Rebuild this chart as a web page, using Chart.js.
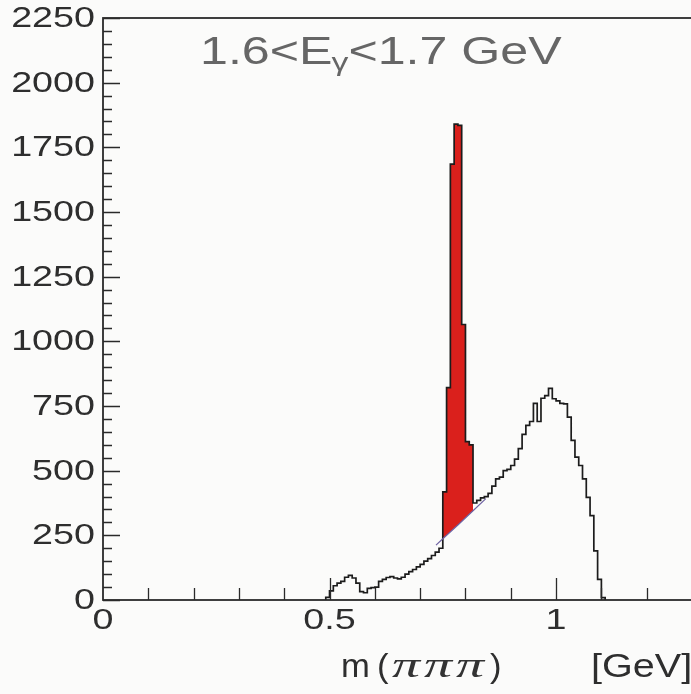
<!DOCTYPE html>
<html>
<head>
<meta charset="utf-8">
<script src="https://cdn.jsdelivr.net/npm/chart.js@4.4.1/dist/chart.umd.min.js"></script>
<style>
  html, body { margin: 0; padding: 0; background: #fbfbfa; overflow: hidden; }
  #wrap { position: relative; width: 700px; height: 694px; }
</style>
</head>
<body>
<div id="wrap"><canvas id="c" width="700" height="694"></canvas></div>
<script>
// m(πππ) spectrum for 1.6 < Eγ < 1.7 GeV, bins of 1/120 GeV
const BIN_WIDTH = 1 / 120;
const FIRST_BIN = 59;               // lower edge of first filled bin = FIRST_BIN * BIN_WIDTH
const counts = [
  10, 35, 55, 65, 72, 88, 95, 85, 65, 32,          // 0.492 - 0.575
  28, 45, 48, 50, 72, 80, 87, 90, 85, 82,          // 0.575 - 0.658
  88, 100, 110, 118, 128, 138, 150, 160, 172, 185, // 0.658 - 0.742
  200, 418, 821, 1685, 1840, 1835, 1065, 612, 600, 375, // 0.742 - 0.825
  385, 395, 400, 412, 440, 468, 475, 500, 505, 520,     // 0.825 - 0.908
  545, 585, 640, 675, 690, 760, 690, 780, 790, 818,     // 0.908 - 0.992
  778, 770, 760, 758, 707, 617, 552, 520, 468, 397,     // 0.992 - 1.075
  326, 190, 80, 9                                        // 1.075 - 1.108
];

// ω signal bins (filled) and the background under them
const PEAK_FIRST_BIN = 90;
const PEAK_LAST_BIN = 97;
const bgMass   = [0.735, 0.75, 0.7833, 0.8167, 0.845];
const bgCounts = [212, 237, 290, 345, 392];

// axis labels
const xTickLabels = [0, 0.5, 1];
const X_MINOR_STEP = 0.1;
const X_MAX = 1.3;
const yTickLabels = [0, 250, 500, 750, 1000, 1250, 1500, 1750, 2000, 2250];
const Y_MINOR_STEP = 50;
const Y_MAX = 2250;

// ---- build step-line data ----
const edge = k => k * BIN_WIDTH;
const histPts = [{ x: edge(FIRST_BIN), y: 0 }];
counts.forEach((c, i) => histPts.push({ x: edge(FIRST_BIN + i), y: c }));
histPts.push({ x: edge(FIRST_BIN + counts.length), y: 0 });

const bgAt = m => {
  for (let i = 0; i < bgMass.length - 1; i++) {
    if (m <= bgMass[i + 1]) {
      const t = (m - bgMass[i]) / (bgMass[i + 1] - bgMass[i]);
      return bgCounts[i] + t * (bgCounts[i + 1] - bgCounts[i]);
    }
  }
  return bgCounts[bgCounts.length - 1];
};

const peakPts = [];
for (let k = PEAK_FIRST_BIN; k <= PEAK_LAST_BIN; k++) {
  peakPts.push({ x: edge(k), y: counts[k - FIRST_BIN] });
}
peakPts.push({ x: edge(PEAK_LAST_BIN + 1), y: counts[PEAK_LAST_BIN - FIRST_BIN] });

const peakBase = [edge(PEAK_FIRST_BIN), 0.7833, edge(PEAK_LAST_BIN + 1)]
  .map(m => ({ x: m, y: bgAt(m) }));
const fitLine = bgMass.map((m, i) => ({ x: m, y: bgCounts[i] }));

// ---- frame, inward ticks, stretched labels ----
function stretchedText(ctx, str, x, y, sx, align) {
  const w = ctx.measureText(str).width * sx;
  const x0 = align === 'right' ? x - w : align === 'center' ? x - w / 2 : x;
  ctx.save();
  ctx.translate(x0, y);
  ctx.scale(sx, 1);
  ctx.textAlign = 'left';
  ctx.fillText(str, 0, 0);
  ctx.restore();
  return x0 + w;
}

const SANS = '"Liberation Sans", Arial, sans-serif';

const frameAndText = {
  id: 'frameAndText',
  afterDraw(chart) {
    const { ctx, chartArea: a, scales } = chart;
    const xs = scales.x, ys = scales.y;
    ctx.save();
    ctx.strokeStyle = '#2a2a2a';
    ctx.lineWidth = 1.8;
    ctx.strokeRect(a.left, a.top, a.right - a.left, a.bottom - a.top);

    ctx.lineWidth = 1.3;
    ctx.beginPath();
    for (let v = 0; v <= Y_MAX + 1e-6; v += Y_MINOR_STEP) {
      const py = Math.round(ys.getPixelForValue(v)) + 0.5;
      const len = yTickLabels.includes(v) ? 17 : 9;
      ctx.moveTo(a.left, py); ctx.lineTo(a.left + len, py);
    }
    for (let i = 1; i * X_MINOR_STEP <= X_MAX + 1e-6; i++) {
      const v = +(i * X_MINOR_STEP).toFixed(3);
      const px = Math.round(xs.getPixelForValue(v)) + 0.5;
      const len = xTickLabels.includes(v) ? 22 : 12;
      ctx.moveTo(px, a.bottom); ctx.lineTo(px, a.bottom - len);
    }
    ctx.stroke();

    ctx.fillStyle = '#2e2e2e';
    ctx.textBaseline = 'middle';
    ctx.font = '29px ' + SANS;
    yTickLabels.forEach(v => {
      stretchedText(ctx, String(v), a.left - 8, ys.getPixelForValue(v) + 1, 1.3, 'right');
    });
    xTickLabels.forEach(v => {
      stretchedText(ctx, String(v), xs.getPixelForValue(v), a.bottom + 21, 1.3, 'center');
    });

    // axis title
    ctx.textBaseline = 'alphabetic';
    ctx.font = '33px ' + SANS;
    stretchedText(ctx, 'm', 341, 677, 1.05, 'left');
    stretchedText(ctx, '(', 377, 677, 1.05, 'left');
    ctx.fillStyle = '#333';
    ctx.font = 'italic 35px "Liberation Serif", "Times New Roman", serif';
    for (let i = 0; i < 3; i++) stretchedText(ctx, 'π', 392 + i * 32, 677, 1.6, 'left');
    ctx.fillStyle = '#2e2e2e';
    ctx.font = '33px ' + SANS;
    stretchedText(ctx, ')', 490, 677, 1.05, 'left');
    stretchedText(ctx, '[GeV]', 591, 677, 1.2, 'left');

    // energy-range label
    ctx.fillStyle = '#666';
    ctx.font = '38px ' + SANS;
    let cx = stretchedText(ctx, '1.6<E', 200, 64, 1.32, 'left');
    ctx.font = '26px ' + SANS;
    cx = stretchedText(ctx, 'γ', cx - 1, 71, 1.3, 'left');
    ctx.font = '38px ' + SANS;
    stretchedText(ctx, '<1.7 GeV', cx, 64, 1.32, 'left');
    ctx.restore();
  }
};

new Chart(document.getElementById('c'), {
  type: 'line',
  data: {
    datasets: [
      {
        label: 'background fit',
        data: fitLine,
        borderColor: '#6f63a3',
        borderWidth: 1.2,
        pointRadius: 0,
        fill: false,
        order: -1
      },
      {
        label: 'all events',
        data: histPts,
        stepped: 'before',
        borderColor: '#1c1c1c',
        borderWidth: 1.7,
        pointRadius: 0,
        fill: false,
        order: 0
      },
      {
        label: 'ω signal',
        data: peakPts,
        stepped: 'before',
        borderColor: 'rgba(0,0,0,0)',
        borderWidth: 0,
        backgroundColor: 'rgb(218, 32, 28)',
        pointRadius: 0,
        fill: { target: 3 },
        order: 1
      },
      {
        label: 'signal base',
        data: peakBase,
        borderColor: 'rgba(0,0,0,0)',
        borderWidth: 0,
        pointRadius: 0,
        fill: false,
        order: 2
      }
    ]
  },
  options: {
    responsive: false,
    animation: false,
    devicePixelRatio: 1,
    layout: { padding: { left: 103, right: 8, top: 18, bottom: 94 } },
    scales: {
      x: { type: 'linear', min: 0, max: X_MAX, display: false },
      y: { type: 'linear', min: 0, max: Y_MAX, display: false }
    },
    plugins: { legend: { display: false }, tooltip: { enabled: false } }
  },
  plugins: [frameAndText]
});
</script>
</body>
</html>
